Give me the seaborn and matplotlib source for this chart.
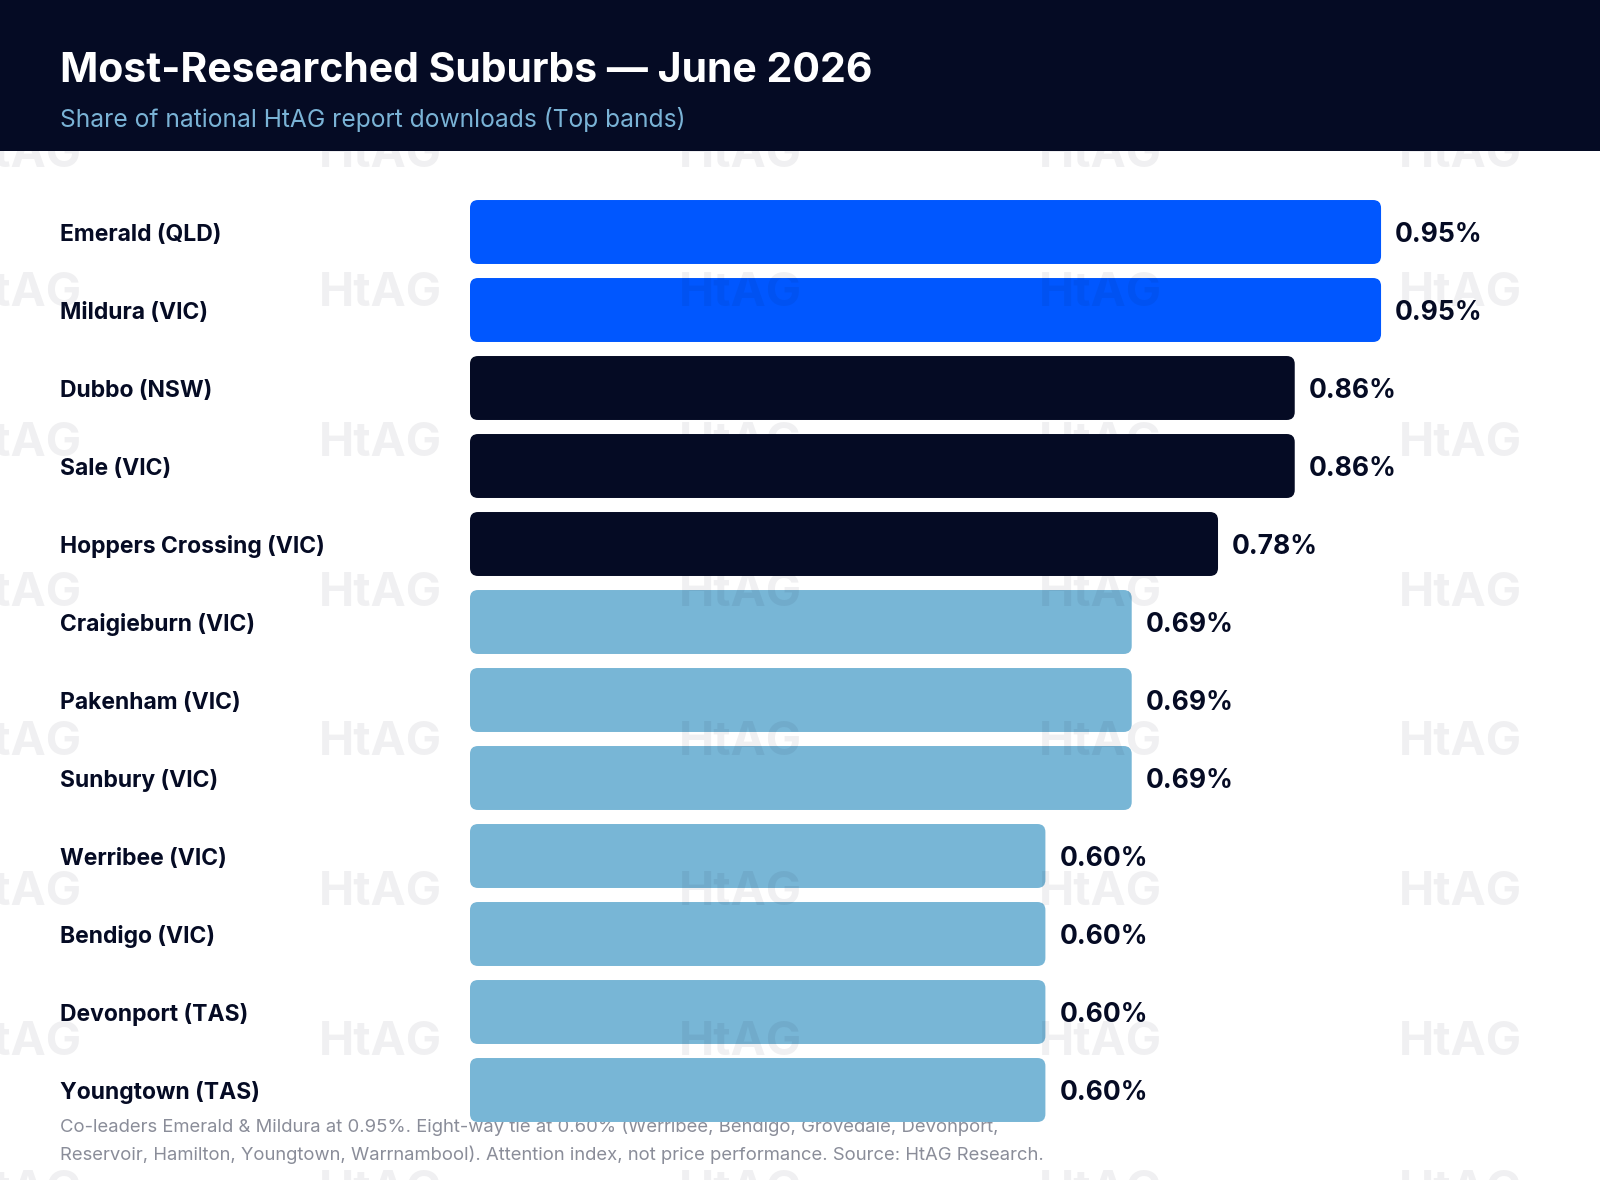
import matplotlib
matplotlib.use("Agg")
import matplotlib.pyplot as plt
from matplotlib.patches import FancyBboxPatch, Rectangle
import seaborn as sns
import pandas as pd

suburbs = ["Emerald (QLD)", "Mildura (VIC)", "Dubbo (NSW)", "Sale (VIC)",
           "Hoppers Crossing (VIC)", "Craigieburn (VIC)", "Pakenham (VIC)",
           "Sunbury (VIC)", "Werribee (VIC)", "Bendigo (VIC)",
           "Devonport (TAS)", "Youngtown (TAS)"]
shares = [0.95, 0.95, 0.86, 0.86, 0.78, 0.69, 0.69, 0.69, 0.60, 0.60, 0.60, 0.60]
bands = ["top", "top", "mid", "mid", "mid", "low", "low", "low", "low", "low", "low", "low"]
band_colors = {"top": "#0057FF", "mid": "#050B24", "low": "#78B6D6"}

title = "Most-Researched Suburbs — June 2026"
subtitle = "Share of national HtAG report downloads (Top bands)"
footer = ("Co-leaders Emerald & Mildura at 0.95%. Eight-way tie at 0.60% (Werribee, Bendigo, Grovedale, Devonport,\n"
          "Reservoir, Hamilton, Youngtown, Warrnambool). Attention index, not price performance. Source: HtAG Research.")

sns.set_theme(style="white")
plt.rcParams["font.family"] = ["Inter", "DejaVu Sans"]

W, H = 1600, 1180
fig = plt.figure(figsize=(W / 100, H / 100), dpi=100)
fig.patch.set_facecolor("white")

NAVY = "#050B24"

ax = fig.add_axes([470 / W, 0, 1 - 470 / W, 1 - 151 / H])
ax.set_facecolor("none")

df = pd.DataFrame({"suburb": suburbs, "share": shares, "band": bands})
sns.barplot(data=df, x="share", y="suburb", hue="band", palette=band_colors,
            dodge=False, width=0.82, ax=ax, legend=False, saturation=1)

px_per_unit = 959.0
row_px = 78.0
ax.set_xlim(0, (W - 470) / px_per_unit)
ax.set_ylim((H - 232) / row_px, (151 - 232) / row_px)

# replace bars with rounded versions at the same geometry
for p in list(ax.patches):
    x, y = p.get_x(), p.get_y()
    w, h = p.get_width(), p.get_height()
    if w <= 0:
        continue
    fc = p.get_facecolor()
    p.remove()
    rb = FancyBboxPatch((x, y), w, h, boxstyle="round,pad=0,rounding_size=%f" % (8 / px_per_unit),
                        mutation_aspect=px_per_unit / row_px,
                        facecolor=fc, edgecolor="none", clip_on=False, zorder=2)
    ax.add_patch(rb)

# value labels
for i, v in enumerate(shares):
    ax.text(v + 14 / px_per_unit, i, f"{v:.2f}%", ha="left", va="center_baseline",
            fontsize=19, fontweight="bold", color=NAVY, zorder=3)

ax.set_xlabel("")
ax.set_ylabel("")
ax.set_xticks([])
ax.tick_params(axis="y", length=0, pad=(470 - 60) * 0.72)
for lab in ax.get_yticklabels():
    lab.set_ha("left")
    lab.set_fontsize(16.5)
    lab.set_fontweight("bold")
    lab.set_color(NAVY)
sns.despine(ax=ax, left=True, bottom=True)

# watermarks
wm_xs = [20, 380, 740, 1100, 1460]
wm_ys = [155, 294, 444, 594, 743, 893, 1043, 1192]
for yy in wm_ys:
    for xx in wm_xs:
        fig.text(xx / W, 1 - yy / H, "HtAG", ha="center", va="center",
                 fontsize=34, fontweight="bold", color=NAVY, alpha=0.06, zorder=5)

# header band
fig.patches.append(Rectangle((0, 1 - 151 / H), 1, 151 / H, transform=fig.transFigure,
                             facecolor=NAVY, edgecolor="none", zorder=6))
fig.text(60 / W, 1 - 67 / H, title, ha="left", va="center_baseline", fontsize=29.5,
         fontweight="bold", color="white", zorder=7)
fig.text(60 / W, 1 - 117 / H, subtitle, ha="left", va="center_baseline", fontsize=17.7,
         color="#7AB3D6", zorder=7)

# footer (behind bars)
fig.text(60 / W, 1 - 1141 / H, footer, ha="left", va="center", fontsize=13.3,
         color="#8A8D99", linespacing=1.65, zorder=-1)

fig.savefig("out.png", dpi=100, facecolor="white")
